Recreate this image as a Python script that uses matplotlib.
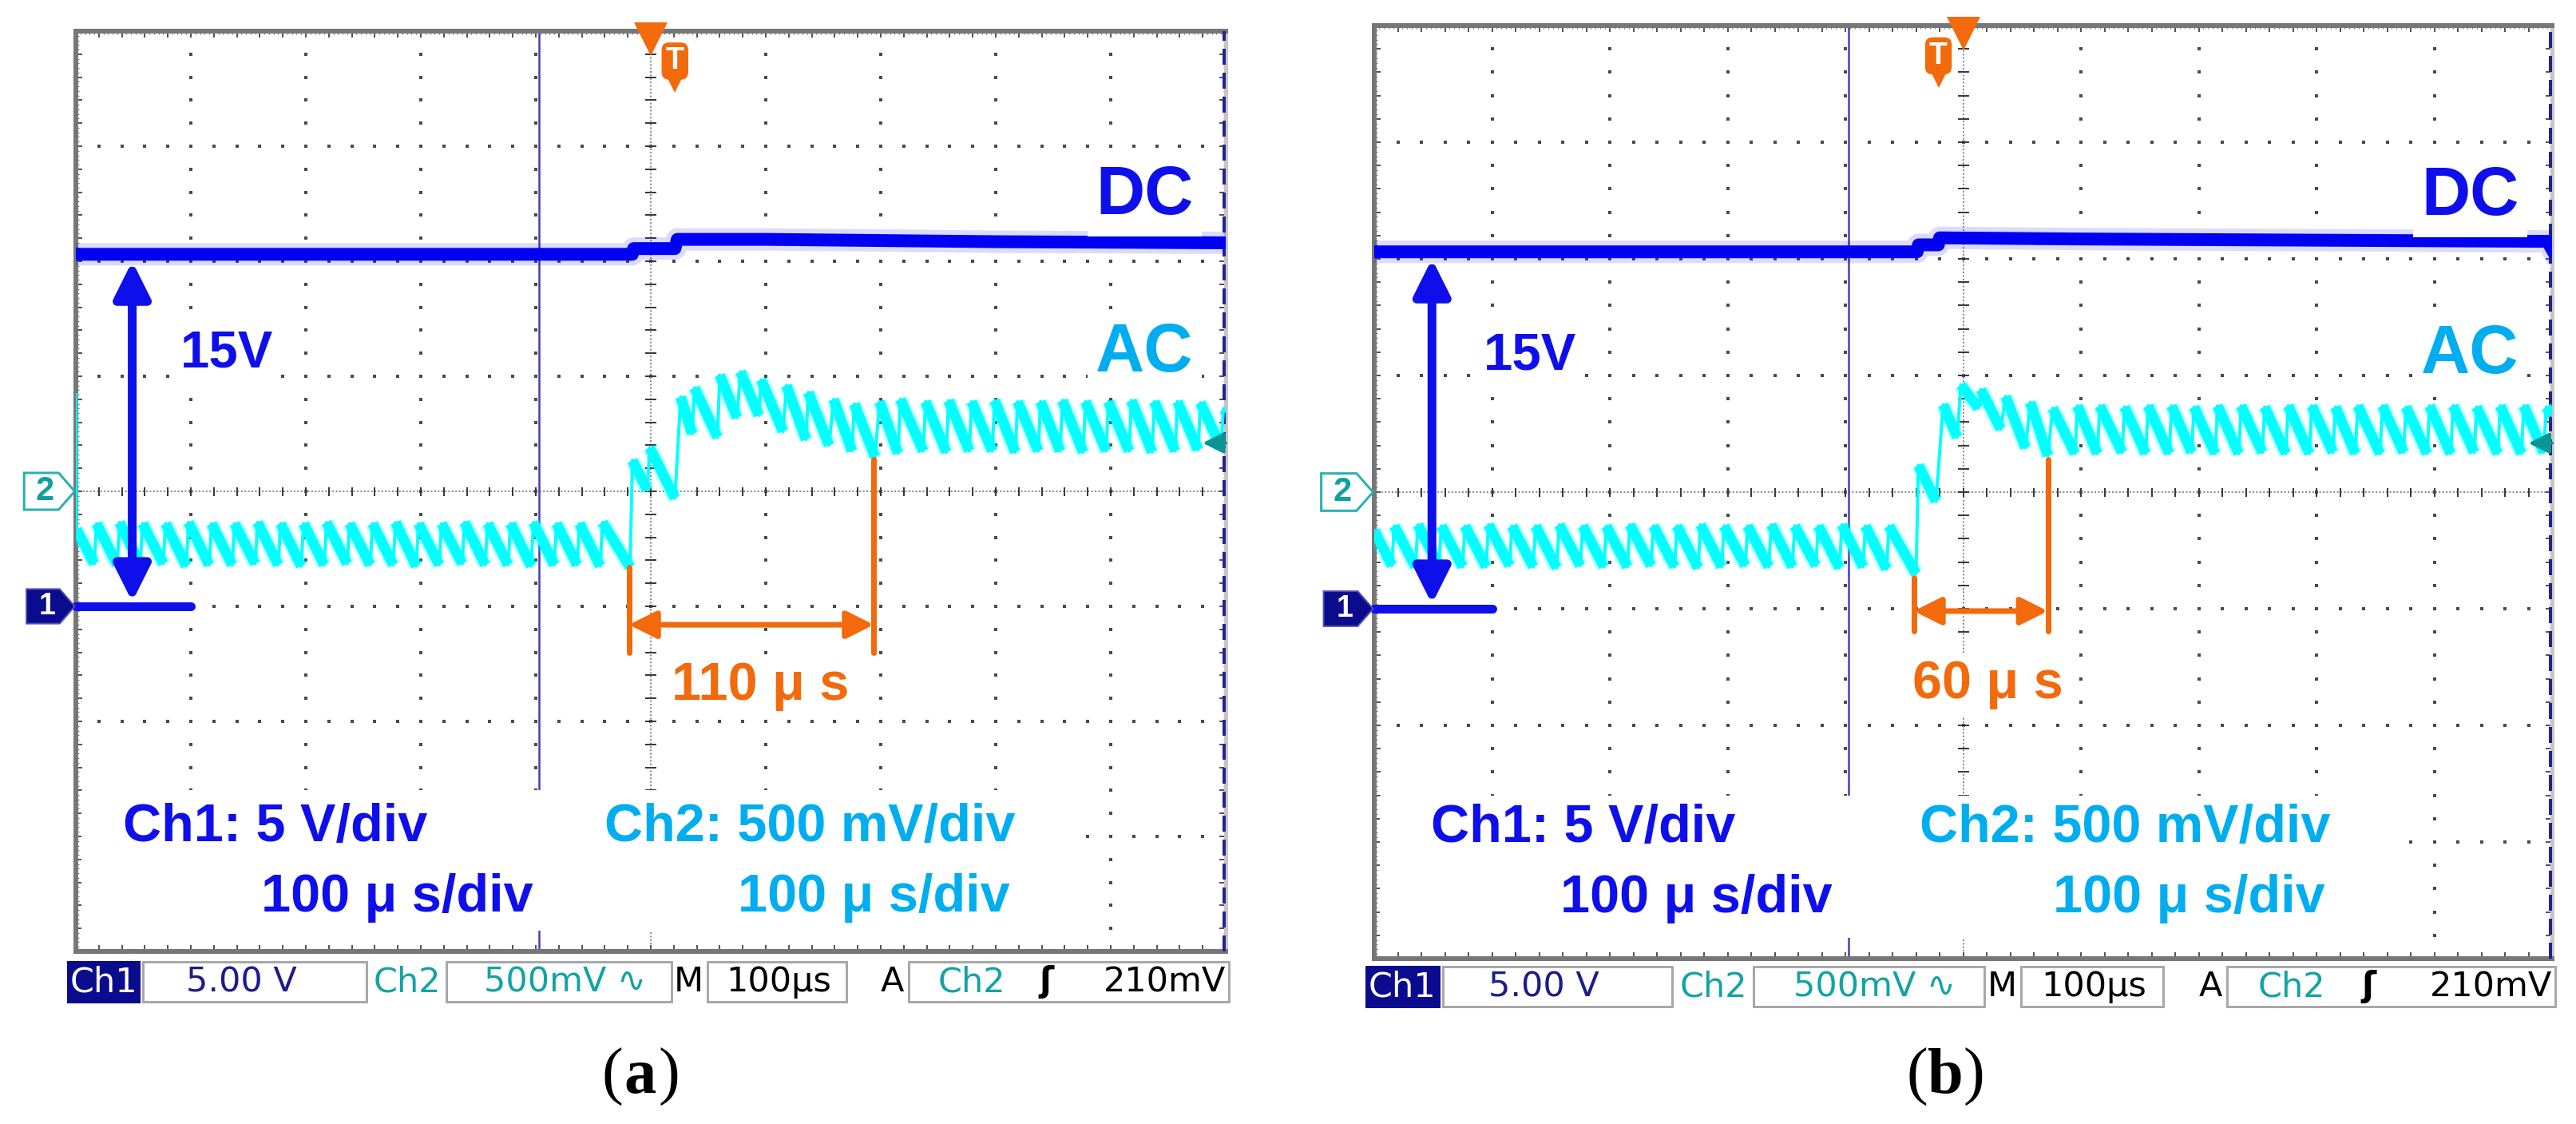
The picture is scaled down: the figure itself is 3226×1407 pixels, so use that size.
import matplotlib.pyplot as plt
import matplotlib.patches as mpatches
import numpy as np

W, H, DPI = 3226, 1407, 100

plt.rcParams['font.family'] = ['Liberation Sans', 'DejaVu Sans']

# all values are in screen divisions: x 0..10 (100 us/div), y -4..4 (0 = centre line)
# ---------------- panel (a) ----------------
a_dc_t = [0.0, 4.84, 4.85, 5.21, 5.23, 6.0, 8.0, 10.0]
a_dc_v = [2.06, 2.06, 2.11, 2.11, 2.19, 2.19, 2.17, 2.16]

a_ac_start_t = [0.0, 0.005]
a_ac_start_v = [0.84, -0.33]
a_trough_t = [0.16, 0.36, 0.56, 0.76, 0.96, 1.16, 1.36, 1.56, 1.76, 1.96,
              2.16, 2.36, 2.56, 2.76, 2.96, 3.16, 3.36, 3.56, 3.76, 3.96,
              4.16, 4.36, 4.56,
              4.82, 4.97, 5.21, 5.36, 5.58, 5.75, 5.94, 6.15, 6.35, 6.55, 6.75, 6.95, 7.15,
              7.37, 7.57, 7.77, 7.97, 8.17, 8.37, 8.56, 8.76, 8.96, 9.16, 9.36, 9.56, 9.76, 9.96]
a_trough_v = [-0.63, -0.64, -0.64, -0.63, -0.65, -0.64, -0.64, -0.63, -0.64, -0.65,
              -0.64, -0.63, -0.64, -0.64, -0.65, -0.64, -0.63, -0.64, -0.64, -0.65,
              -0.64, -0.64, -0.65,
              -0.66, 0.01, -0.06, 0.50, 0.47, 0.64, 0.66, 0.52, 0.45, 0.40, 0.35, 0.30, 0.33,
              0.35, 0.34, 0.35, 0.35, 0.34, 0.35, 0.35, 0.34, 0.35, 0.35, 0.34, 0.35, 0.36, 0.38]
a_peak_t = [0.18, 0.38, 0.58, 0.78, 0.98, 1.18, 1.38, 1.58, 1.78, 1.98,
            2.18, 2.38, 2.58, 2.78, 2.98, 3.18, 3.38, 3.58, 3.78, 3.98,
            4.18, 4.38, 4.58,
            4.84, 4.99, 5.26, 5.38, 5.60, 5.78, 5.96, 6.18, 6.37, 6.59, 6.77, 6.99, 7.17,
            7.39, 7.59, 7.79, 7.99, 8.19, 8.39, 8.58, 8.78, 8.98, 9.18, 9.38, 9.58, 9.78, 9.98]
a_peak_v = [-0.28, -0.27, -0.28, -0.28, -0.27, -0.28, -0.28, -0.27, -0.28, -0.28,
            -0.27, -0.28, -0.28, -0.27, -0.28, -0.28, -0.27, -0.28, -0.28, -0.27,
            -0.28, -0.28, -0.27,
            0.27, 0.38, 0.82, 0.90, 1.01, 1.04, 0.97, 0.92, 0.86, 0.80, 0.76, 0.78, 0.80,
            0.78, 0.79, 0.78, 0.79, 0.78, 0.78, 0.79, 0.78, 0.78, 0.79, 0.78, 0.78, 0.77, 0.72]
a_ac_end = (10.0, 0.70)
a_delay_label = '110 μ s'

# ---------------- panel (b) ----------------
b_dc_t = [0.0, 4.61, 4.62, 4.79, 4.80, 6.0, 8.0, 9.96, 10.0]
b_dc_v = [2.06, 2.06, 2.12, 2.12, 2.18, 2.17, 2.16, 2.15, 2.08]

b_ac_start_t = [0.0]
b_ac_start_v = [-0.33]
b_trough_t = [0.15, 0.35, 0.55, 0.75, 0.95, 1.15, 1.35, 1.55, 1.75, 1.95,
              2.15, 2.35, 2.55, 2.75, 2.95, 3.15, 3.35, 3.55, 3.75, 3.95,
              4.15, 4.35,
              4.60, 4.77, 4.95, 5.13, 5.32, 5.53, 5.72,
              5.95, 6.14, 6.35, 6.55, 6.75, 6.94, 7.14, 7.34, 7.54, 7.74, 7.94,
              8.14, 8.33, 8.54, 8.74, 8.94, 9.14, 9.34, 9.54, 9.74, 9.93]
b_trough_v = [-0.63, -0.64, -0.63, -0.64, -0.64, -0.63, -0.64, -0.65, -0.63, -0.64,
              -0.64, -0.63, -0.64, -0.65, -0.64, -0.63, -0.64, -0.64, -0.63, -0.65,
              -0.64, -0.66,
              -0.70, -0.08, 0.47, 0.72, 0.54, 0.38, 0.31,
              0.33, 0.33, 0.34, 0.33, 0.33, 0.34, 0.33, 0.33, 0.34, 0.33, 0.33,
              0.34, 0.33, 0.33, 0.34, 0.33, 0.33, 0.34, 0.33, 0.33, 0.34]
b_peak_t = [0.17, 0.37, 0.57, 0.77, 0.97, 1.17, 1.37, 1.57, 1.77, 1.97,
            2.17, 2.37, 2.57, 2.77, 2.97, 3.17, 3.37, 3.57, 3.77, 3.97,
            4.17, 4.37,
            4.62, 4.83, 4.98, 5.15, 5.36, 5.57, 5.76,
            5.97, 6.16, 6.37, 6.57, 6.77, 6.96, 7.16, 7.36, 7.56, 7.76, 7.96,
            8.16, 8.35, 8.56, 8.76, 8.96, 9.16, 9.36, 9.56, 9.76, 9.95]
b_peak_v = [-0.29, -0.28, -0.29, -0.29, -0.28, -0.29, -0.29, -0.28, -0.29, -0.29,
            -0.28, -0.29, -0.29, -0.28, -0.29, -0.29, -0.28, -0.29, -0.29, -0.28,
            -0.29, -0.29,
            0.23, 0.75, 0.92, 0.88, 0.82, 0.77, 0.72,
            0.74, 0.74, 0.73, 0.74, 0.74, 0.73, 0.74, 0.74, 0.73, 0.74, 0.74,
            0.73, 0.74, 0.74, 0.73, 0.74, 0.74, 0.73, 0.74, 0.74, 0.73]
b_ac_end = (10.0, 0.66)
b_delay_label = '60 μ s'

ch1_ground = -1.0      # Ch1 reference marker (5 V/div)
ch2_ground = 0.0       # Ch2 reference marker (500 mV/div)
trig_level = 0.42      # 210 mV / 500 mV per div
cursor_x = 4.03

BLUE = '#0F0FEB'
TRACE_BLUE = '#0000F2'
CYAN = '#00FFFF'
LBLUE = '#00AEEF'
ORANGE = '#F26A0C'
NAVY = '#0B0B8E'
TEAL = '#13A3A3'
GRID = '#4A4A4A'


def px(p):
    return p * 72.0 / DPI


def saw(st_t, st_v, tr_t, tr_v, pk_t, pk_v, end):
    # full polyline plus the falling ramps (drawn thicker, like the scope's persistence)
    t, v = list(st_t), list(st_v)
    for a, b, c, d in zip(tr_t, tr_v, pk_t, pk_v):
        t += [a, c]
        v += [b, d]
    t.append(end[0])
    v.append(end[1])
    rt = [st_t[-1], tr_t[0], np.nan]
    rv = [st_v[-1], tr_v[0], np.nan]
    for a, b, c, d in zip(pk_t, pk_v, list(tr_t[1:]) + [end[0]], list(tr_v[1:]) + [end[1]]):
        rt += [a, c, np.nan]
        rv += [b, d, np.nan]
    return t, v, rt, rv


def screen(ax):
    ax.set_xlim(0, 10)
    ax.set_ylim(-4, 4)
    ax.set_xticks(np.arange(0, 10.001, 0.2))
    ax.set_yticks(np.arange(-4, 4.001, 0.2))
    ax.set_xticks(np.arange(0, 10.001, 0.04), minor=True)
    ax.set_yticks(np.arange(-4, 4.001, 0.04), minor=True)
    ax.tick_params(which='major', direction='in', length=px(8), width=px(2),
                   color='#555555', top=True, right=True,
                   labelbottom=False, labelleft=False)
    ax.tick_params(which='minor', direction='in', length=px(3.5), width=px(1.2),
                   color='#777777', top=True, right=True)
    for s in ('left', 'top', 'bottom'):
        ax.spines[s].set_color('#777777')
        ax.spines[s].set_linewidth(px(6))
    ax.spines['right'].set_color('#C6C6C6')
    ax.spines['right'].set_linewidth(px(5))

    xs = np.arange(0, 10.001, 0.2)
    ys = np.arange(-4, 4.001, 0.2)
    for gx in (1, 2, 3, 4, 6, 7, 8, 9):
        ax.plot(np.full(ys.size, gx), ys, ls='none', marker='s', ms=px(4),
                mew=0, color=GRID, zorder=1)
    for gy in (-3, -2, -1, 1, 2, 3):
        ax.plot(xs, np.full(xs.size, gy), ls='none', marker='s', ms=px(4),
                mew=0, color=GRID, zorder=1)
    # centre cross hair
    ax.axhline(0, color='#8A8A8A', lw=px(2), ls=(0, (1, 1.2)), zorder=1)
    ax.axvline(5, color='#8A8A8A', lw=px(2), ls=(0, (1, 1.2)), zorder=1)
    ax.plot(xs, np.zeros(xs.size), ls='none', marker='|', ms=px(11),
            mew=px(2), color='#3A3A3A', zorder=1)
    ax.plot(np.full(ys.size, 5), ys, ls='none', marker='_', ms=px(14),
            mew=px(2), color='#3A3A3A', zorder=1)

    # right-hand dashed cursor and the vertical cursor line
    ax.plot([9.985, 9.985], [-4, 4], color='#23238A', lw=px(4), ls=(0, (5, 2.5)),
            zorder=3, clip_on=False)
    ax.axvline(cursor_x, color='#4040B8', lw=px(2.5), zorder=2)


def markers(ax, badge_x):
    # channel reference markers on the left
    y = ch1_ground
    ax.add_patch(mpatches.Polygon([(-0.43, y - 0.15), (-0.14, y - 0.15), (-0.01, y),
                                   (-0.14, y + 0.15), (-0.43, y + 0.15)],
                                  closed=True, fc=NAVY, ec='#5050B0', lw=px(2),
                                  clip_on=False, zorder=6))
    ax.text(-0.25, y, '1', color='white', fontsize=27, fontweight='bold',
            ha='center', va='center', clip_on=False, zorder=7)
    y = ch2_ground
    ax.add_patch(mpatches.Polygon([(-0.45, y - 0.16), (-0.15, y - 0.16), (-0.01, y),
                                   (-0.15, y + 0.16), (-0.45, y + 0.16)],
                                  closed=True, fc='white', ec='#2AB0B0', lw=px(3),
                                  clip_on=False, zorder=6))
    ax.text(-0.27, y, '2', color='#10A0A0', fontsize=30, fontweight='bold',
            ha='center', va='center', clip_on=False, zorder=7)
    # trigger position and level
    ax.plot([5], [3.93], marker='v', ms=px(42), color=ORANGE, mew=0,
            clip_on=False, zorder=7)
    ax.text(badge_x, 3.74, 'T', color='white', fontsize=27, fontweight='bold',
            ha='center', va='center', zorder=7,
            bbox=dict(boxstyle='round,pad=0.14,rounding_size=0.25', fc=ORANGE, ec='none'))
    ax.plot([badge_x], [3.53], marker='v', ms=px(18), color=ORANGE, mew=0, zorder=7)
    ax.annotate('', xy=(9.80, trig_level), xytext=(10.0, trig_level),
                arrowprops=dict(arrowstyle='-|>', color='#0A9494', lw=px(4),
                                mutation_scale=px(55), shrinkA=0, shrinkB=0),
                zorder=7)


def status_bar(ax, y_top, y_bot):
    ym = (y_top + y_bot) / 2
    for x0, x1, fc in [(-0.07, 0.55, NAVY), (0.58, 2.53, 'white'), (3.22, 5.18, 'white'),
                       (5.49, 6.70, 'white'), (7.24, 10.03, 'white')]:
        ec = '#A8A8A8' if fc == 'white' else fc
        ax.add_patch(mpatches.Rectangle((x0, y_bot), x1 - x0, y_top - y_bot, fc=fc,
                                        ec=ec, lw=px(3), clip_on=False, zorder=6))
    st = dict(fontsize=31, family='DejaVu Sans', va='center', clip_on=False, zorder=7)
    ax.text(0.24, ym, 'Ch1', color='white', ha='center', **st)
    ax.text(1.44, ym, '5.00 V', color='#1C1C8A', ha='center', **st)
    ax.text(2.88, ym, 'Ch2', color=TEAL, ha='center', **st)
    ax.text(4.25, ym, '500mV ∿', color=TEAL, ha='center', **st)
    ax.text(5.33, ym, 'M', color='black', ha='center', **st)
    ax.text(6.11, ym, '100µs', color='black', ha='center', **st)
    ax.text(7.10, ym, 'A', color='black', ha='center', **st)
    ax.text(7.79, ym, 'Ch2', color=TEAL, ha='center', **st)
    ax.text(8.44, ym, 'ʃ', color='black', ha='center', fontweight='bold', **st)
    ax.text(10.0, ym, '210mV', color='black', ha='right', **st)


def panel(ax, dc_t, dc_v, ac, dim, texts, badge_x, bar):
    screen(ax)
    ax.plot(dc_t, dc_v, color=TRACE_BLUE, lw=px(28), alpha=0.14, zorder=4)
    ax.plot(dc_t, dc_v, color=TRACE_BLUE, lw=px(16), zorder=4)
    t, v, rt, rv = ac
    ax.plot(rt, rv, color=CYAN, lw=px(19), alpha=0.25, zorder=4, solid_capstyle='butt')
    ax.plot(t, v, color=CYAN, lw=px(4), zorder=4, solid_joinstyle='round')
    ax.plot(rt, rv, color=CYAN, lw=px(13), zorder=4, solid_capstyle='butt')

    # 15 V arrow and Ch1 ground line
    ax.annotate('', xy=(0.49, 2.0), xytext=(0.49, ch1_ground + 0.04),
                arrowprops=dict(arrowstyle='<|-|>', color=BLUE, lw=px(11),
                                mutation_scale=px(95), shrinkA=0, shrinkB=0), zorder=5)
    ax.plot([0.0, 1.0], [ch1_ground, ch1_ground], color=BLUE, lw=px(11),
            solid_capstyle='round', zorder=5, clip_on=False)

    # delay dimension
    x0, y0, x1, y1, ybot, yarr = dim
    ax.plot([x0, x0], [y0, ybot], color=ORANGE, lw=px(7), solid_capstyle='round', zorder=5)
    ax.plot([x1, x1], [y1, ybot], color=ORANGE, lw=px(7), solid_capstyle='round', zorder=5)
    ax.annotate('', xy=(x0, yarr), xytext=(x1, yarr),
                arrowprops=dict(arrowstyle='<|-|>', color=ORANGE, lw=px(7),
                                mutation_scale=px(72), shrinkA=0, shrinkB=0), zorder=5)

    wb = dict(boxstyle='square,pad=0.12', fc='white', ec='none')
    for s, x, y, size, col, ha in texts:
        ax.text(x, y, s, color=col, fontsize=size, fontweight='bold', ha=ha,
                va='baseline', zorder=6, bbox=wb)
    ax.add_patch(mpatches.Rectangle((0.05, -3.82), 8.65, 1.22, fc='white', ec='none', zorder=3))
    markers(ax, badge_x)
    status_bar(ax, *bar)


fig = plt.figure(figsize=(W / DPI, H / DPI), dpi=DPI)

ax_a = fig.add_axes([95 / W, (H - 1191) / H, 1440 / W, 1152 / H])
ax_b = fig.add_axes([1721 / W, (H - 1200) / H, 1475 / W, 1168 / H])

panel(ax_a, a_dc_t, a_dc_v,
      saw(a_ac_start_t, a_ac_start_v, a_trough_t, a_trough_v, a_peak_t, a_peak_v, a_ac_end),
      (4.81, -0.66, 6.94, 0.28, -1.40, -1.16),
      [('DC', 9.72, 2.41, 61, BLUE, 'right'), ('AC', 9.72, 1.04, 61, LBLUE, 'right'),
       ('15V', 0.91, 1.08, 47, BLUE, 'left'), (a_delay_label, 5.18, -1.81, 48, ORANGE, 'left'),
       ('Ch1: 5 V/div', 0.41, -3.04, 48, BLUE, 'left'),
       ('100 μ s/div', 1.61, -3.65, 48, BLUE, 'left'),
       ('Ch2: 500 mV/div', 4.60, -3.04, 48, LBLUE, 'left'),
       ('100 μ s/div', 5.76, -3.65, 48, LBLUE, 'left')],
      5.21, (-4.09, -4.44))

panel(ax_b, b_dc_t, b_dc_v,
      saw(b_ac_start_t, b_ac_start_v, b_trough_t, b_trough_v, b_peak_t, b_peak_v, b_ac_end),
      (4.58, -0.73, 5.72, 0.28, -1.19, -1.02),
      [('DC', 9.72, 2.38, 61, BLUE, 'right'), ('AC', 9.72, 1.02, 61, LBLUE, 'right'),
       ('15V', 0.93, 1.05, 47, BLUE, 'left'), (b_delay_label, 4.57, -1.77, 48, ORANGE, 'left'),
       ('Ch1: 5 V/div', 0.48, -3.0, 48, BLUE, 'left'),
       ('100 μ s/div', 1.58, -3.6, 48, BLUE, 'left'),
       ('Ch2: 500 mV/div', 4.63, -3.0, 48, LBLUE, 'left'),
       ('100 μ s/div', 5.76, -3.6, 48, LBLUE, 'left')],
      4.79, (-4.07, -4.41))

# captions
for cx, letter in ((802, 'a'), (2436, 'b')):
    x = cx / W
    y = 1 - 1368 / H
    fig.text(x - 22 / W, y, '(', ha='right', va='baseline', fontsize=58,
             family='Liberation Serif')
    fig.text(x, y, letter, ha='center', va='baseline', fontsize=58,
             family='Liberation Serif', fontweight='bold')
    fig.text(x + 22 / W, y, ')', ha='left', va='baseline', fontsize=58,
             family='Liberation Serif')

fig.savefig('out.png', dpi=DPI, facecolor='white')
